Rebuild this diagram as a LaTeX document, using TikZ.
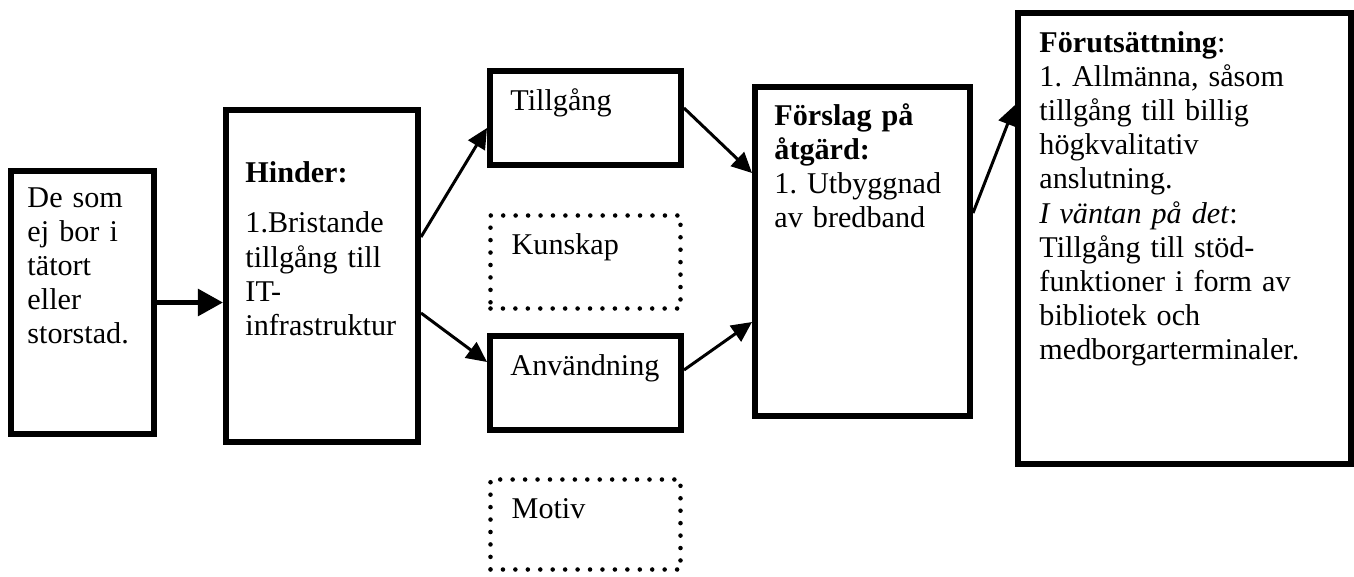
\documentclass[tikz,border=0pt]{standalone}
\usepackage{fontspec}
\setmainfont{Liberation Serif}
\usetikzlibrary{calc, arrows.meta}

% one pixel of the layout
\def\u{0.418pt}

\begin{document}
\frenchspacing
\begin{tikzpicture}[x=\u, y=-\u,
    box/.style={draw, rectangle, line width=2.5pt, inner sep=0pt},
    dotbox/.style={draw, rectangle, line width=1.9pt, dash pattern=on 0pt off 5.2pt, line cap=round, inner sep=0pt},
    boxtext/.style={anchor=base west, inner sep=0pt, text width=5cm, align=left, font=\fontsize{12.6pt}{14.3pt}\selectfont},
    link/.style={line width=1.25pt, -{Triangle[length=8.5pt, width=8pt]}},
    biglink/.style={line width=2.1pt, -{Triangle[length=10.5pt, width=11pt]}}]

    % Fix the page size
    \useasboundingbox (0,0) rectangle (1354,576);

    % Draw the boxes
    \node[box, minimum width=143*\u, minimum height=263*\u] (src) at (82.5,302.5) {};
    \node[box, minimum width=192*\u, minimum height=332*\u] (hinder) at (322,276) {};
    \node[box, minimum width=191*\u, minimum height=94*\u] (tillgang) at (585.5,118) {};
    \node[dotbox, minimum width=190*\u, minimum height=93*\u] (kunskap) at (585.5,262) {};
    \node[box, minimum width=191*\u, minimum height=94*\u] (anvandning) at (585.5,383) {};
    \node[dotbox, minimum width=190*\u, minimum height=90*\u] (motiv) at (585.5,524.5) {};
    \node[box, minimum width=215*\u, minimum height=329*\u] (forslag) at (862.5,251.5) {};
    \node[box, minimum width=333*\u, minimum height=451*\u] (forutsattning) at (1184.5,238.5) {};

    % Texts in the boxes
    \node[boxtext] (srcText) at ($(src.north west)+(19,39)$) {De som\\ej bor i\\tätort\\eller\\storstad.};
    \node[boxtext] (hinderText) at ($(hinder.north west)+(22,75)$) {\textbf{Hinder:}\\[7pt]1.Bristande\\tillgång till\\IT-\\infrastruktur};
    \node[boxtext] (tillgangText) at ($(tillgang.north west)+(23,42)$) {Tillgång};
    \node[boxtext] (kunskapText) at ($(kunskap.north west)+(23,41)$) {Kunskap};
    \node[boxtext] (anvandningText) at ($(anvandning.north west)+(23,42)$) {Användning};
    \node[boxtext] (motivText) at ($(motiv.north west)+(23,41)$) {Motiv};
    \node[boxtext] (forslagText) at ($(forslag.north west)+(22,41)$) {\textbf{Förslag på}\\\textbf{åtgärd:}\\1. Utbyggnad\\av bredband};
    \node[boxtext] (forutsattningText) at ($(forutsattning.north west)+(24,42)$) {\textbf{Förutsättning}:\\1. Allmänna, såsom\\tillgång till billig\\högkvalitativ\\anslutning.\\\textit{I väntan på det}:\\Tillgång till stöd-\\funktioner i form av\\bibliotek och\\medborgarterminaler.};

    % Draw the arrows
    \draw[biglink] (src) -- (src -| hinder.west);
    \draw[link] ($(hinder.east)+(0,-39)$) -- ($(tillgang.west)+(0,10)$);
    \draw[link] ($(hinder.east)+(0,37)$) -- ($(anvandning.west)+(0,-21)$);
    \draw[link] ($(tillgang.east)+(0,-10)$) -- ($(forslag.west)+(0,-78.5)$);
    \draw[link] ($(anvandning.east)+(0,-13)$) -- ($(forslag.west)+(0,70.5)$);
    \draw[link] ($(forslag.east)+(0,-38.5)$) -- ($(forutsattning.west)+(0,-133.5)$);

\end{tikzpicture}
\end{document}
